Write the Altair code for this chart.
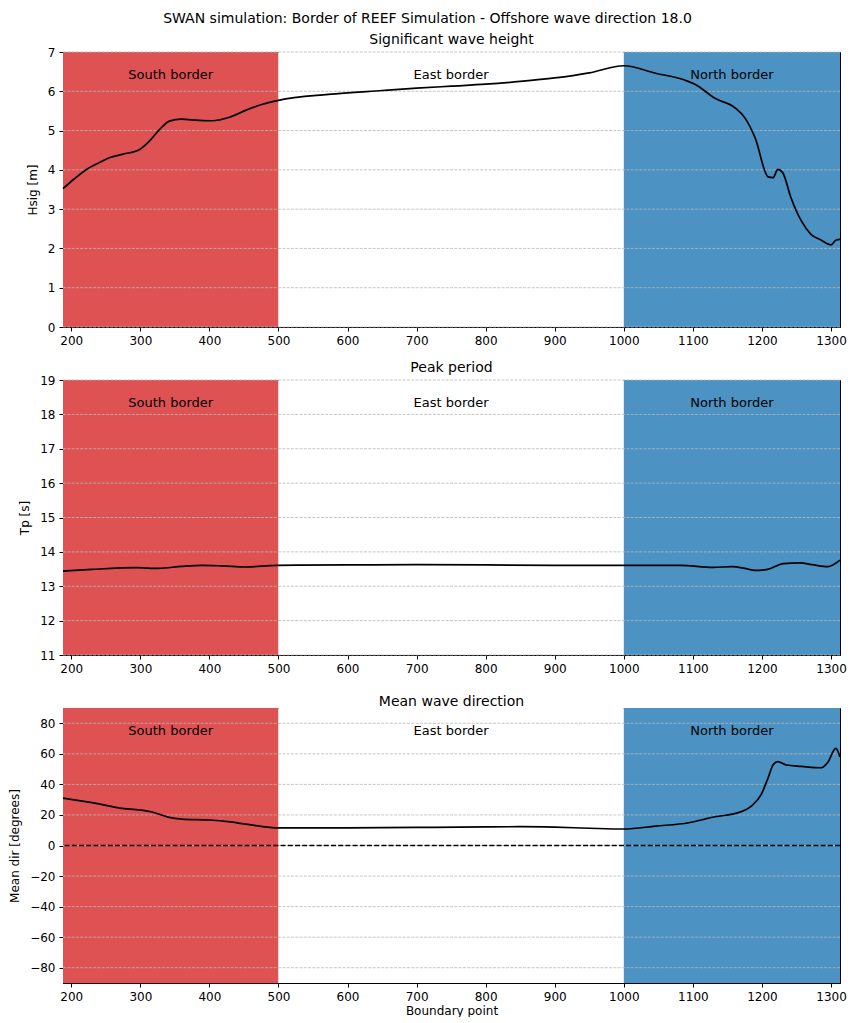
import altair as alt
import pandas as pd

FONT = "DejaVu Sans"

# ---------------- data ----------------
hs_x = [188, 205, 222, 240, 255, 275, 299, 313, 328, 342, 359, 385, 404, 429, 453, 477, 500,
        572, 650, 700, 750, 800, 850, 900, 950, 1000, 1046, 1089, 1103, 1132, 1161, 1175, 1190,
        1209, 1216, 1223, 1230, 1242, 1257, 1271, 1286, 1300, 1307, 1313]
hs_y = [3.52, 3.78, 4.01, 4.18, 4.31, 4.40, 4.52, 4.73, 5.03, 5.24, 5.29, 5.26, 5.25, 5.34,
        5.52, 5.67, 5.77, 5.92, 6.02, 6.08, 6.13, 6.18, 6.25, 6.34, 6.47, 6.65, 6.46, 6.28,
        6.18, 5.82, 5.58, 5.33, 4.82, 3.82, 3.80, 4.01, 3.93, 3.29, 2.70, 2.36, 2.21, 2.09,
        2.21, 2.23]

tp_x = [188, 230, 294, 326, 360, 389, 420, 452, 498, 600, 700, 800, 900, 1000, 1082, 1129,
        1157, 1175, 1190, 1208, 1231, 1255, 1275, 1295, 1313]
tp_y = [13.44, 13.49, 13.54, 13.52, 13.58, 13.61, 13.59, 13.56, 13.61, 13.62, 13.63, 13.62,
        13.61, 13.61, 13.61, 13.55, 13.57, 13.52, 13.46, 13.49, 13.66, 13.68, 13.62, 13.57,
        13.76]

md_x = [188, 240, 270, 300, 317, 340, 360, 400, 430, 470, 500, 600, 700, 800, 850, 900, 950,
        1000, 1046, 1094, 1132, 1166, 1185, 1199, 1209, 1216, 1223, 1235, 1257, 1286, 1295,
        1307, 1313]
md_y = [31.0, 27.2, 24.5, 23.2, 21.9, 18.6, 17.3, 16.7, 15.5, 12.8, 11.5, 11.6, 11.8, 12.2,
        12.3, 12.0, 11.3, 10.8, 12.7, 14.9, 18.8, 21.5, 25.9, 33.5, 44.4, 52.7, 54.9, 52.7,
        51.8, 50.9, 54.2, 63.6, 57.9]

border_names = ["South border", "East border", "North border"]
border_start = [188, 500, 1000]
border_end = [500, 1000, 1313]
border_colors = ["#de5253", "#ffffff", "#4c92c3"]

x_ticks = [200, 300, 400, 500, 600, 700, 800, 900, 1000, 1100, 1200, 1300]
X_DOMAIN = [188, 1313]

W, H = 777, 275


def panel(xs, ys, ydomain, yticks, ytitle, title, show_xtitle, zero_line=False):
    xsc = alt.Scale(domain=X_DOMAIN, nice=False, zero=False)
    ysc = alt.Scale(domain=ydomain, nice=False, zero=False)
    xax = alt.Axis(values=x_ticks, format="d", title="Boundary point" if show_xtitle else "",
                   labelFlush=False, grid=False, titlePadding=3)
    yax = alt.Axis(values=yticks, format="d", title=ytitle, grid=False, titlePadding=8)

    bdf = pd.DataFrame({"name": border_names, "start": border_start, "end": border_end,
                        "mid": [(a + b) / 2 for a, b in zip(border_start, border_end)],
                        "ylab": [ydomain[1] - 0.083 * (ydomain[1] - ydomain[0])] * 3})
    spans = alt.Chart(bdf).mark_rect(clip=True).encode(
        x=alt.X("start:Q", scale=xsc, axis=xax),
        x2="end:Q",
        color=alt.Color("name:N", scale=alt.Scale(domain=border_names, range=border_colors),
                        legend=None),
    )
    grid = alt.Chart(pd.DataFrame({"g": yticks})).mark_rule(
        color="#b8b8b8", strokeDash=[3, 1.3], strokeWidth=0.8
    ).encode(y=alt.Y("g:Q", scale=ysc, axis=yax))

    df = pd.DataFrame({"x": xs, "y": ys})
    line = alt.Chart(df).mark_line(color="black", strokeWidth=1.7, interpolate="monotone").encode(
        x=alt.X("x:Q", scale=xsc, axis=xax),
        y=alt.Y("y:Q", scale=ysc, axis=yax),
    )
    texts = alt.Chart(bdf).mark_text(font=FONT, fontSize=13, color="black", baseline="middle").encode(
        x=alt.X("mid:Q", scale=xsc, axis=xax),
        y=alt.Y("ylab:Q", scale=ysc, axis=yax),
        text="name:N",
    )
    layers = [spans, grid]
    if zero_line:
        z = alt.Chart(pd.DataFrame({"z": [0]})).mark_rule(
            color="black", strokeDash=[5, 2.2], strokeWidth=1.6
        ).encode(y=alt.Y("z:Q", scale=ysc, axis=yax))
        layers.append(z)
    layers += [line, texts]
    return alt.layer(*layers).properties(
        width=W, height=H,
        title=alt.TitleParams(title, fontSize=14, font=FONT, fontWeight="normal", offset=-1),
    )


p1 = panel(hs_x, hs_y, [0, 7], [0, 1, 2, 3, 4, 5, 6, 7], "Hsig [m]", "Significant wave height", False)
p2 = panel(tp_x, tp_y, [11, 19], [11, 12, 13, 14, 15, 16, 17, 18, 19], "Tp [s]", "Peak period", False)
p3 = panel(md_x, md_y, [-90, 90], [-80, -60, -40, -20, 0, 20, 40, 60, 80], "Mean dir [degrees]",
           "Mean wave direction", True, zero_line=True)

chart = alt.vconcat(p1, p2, p3, spacing=53, bounds="flush").properties(
    title=alt.TitleParams("SWAN simulation: Border of REEF Simulation - Offshore wave direction 18.0",
                          fontSize=14, font=FONT, fontWeight="normal", anchor="middle", offset=7),
    padding={"left": 0, "top": 3, "right": 0, "bottom": 0},
).configure_view(
    stroke="black", strokeWidth=1
).configure_axis(
    labelFont=FONT, titleFont=FONT, labelFontSize=12, titleFontSize=12, labelColor="black",
    titleColor="black", tickColor="black", domainColor="black", tickSize=4, labelPadding=4,
    titleFontWeight="normal"
)

chart.save("out.html", embed_options={"renderer": "svg", "actions": False})
